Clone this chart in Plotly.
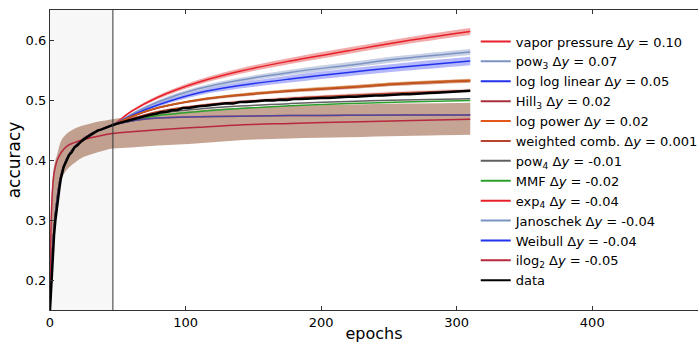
import plotly.graph_objects as go

# ---------------- data ----------------
FIT_EPOCHS = [0, 1, 2, 3, 5, 8, 13, 18, 23, 30, 38, 46, 60, 80, 110, 140, 177, 220, 260, 310]
FIT_EARLY = [0.16, 0.215, 0.255, 0.285, 0.33, 0.373, 0.405, 0.421, 0.432, 0.443, 0.451, 0.458]

vapor_late = [0.481, 0.505, 0.530, 0.548, 0.565, 0.582, 0.5975, 0.614]
pow3_late = [0.476, 0.497, 0.519, 0.533, 0.546, 0.558, 0.569, 0.580]
loglog_late = [0.474, 0.492, 0.512, 0.524, 0.535, 0.546, 0.555, 0.565]
hill3_late = [0.472, 0.487, 0.500, 0.508, 0.515, 0.521, 0.527, 0.532]
logpower_late = [0.4725, 0.4875, 0.5005, 0.5085, 0.5155, 0.5215, 0.5275, 0.5325]
weighted_late = [0.469, 0.481, 0.491, 0.497, 0.503, 0.508, 0.512, 0.516]
pow4_late = [0.466, 0.477, 0.485, 0.490, 0.494, 0.4975, 0.500, 0.502]
mmf_late = [0.465, 0.474, 0.481, 0.486, 0.4905, 0.494, 0.4965, 0.499]
exp4_late = [0.465, 0.470, 0.472, 0.473, 0.474, 0.4745, 0.475, 0.475]
janoschek_late = [0.465, 0.470, 0.472, 0.473, 0.474, 0.4745, 0.475, 0.475]
weibull_late = [0.465, 0.470, 0.472, 0.473, 0.474, 0.4745, 0.475, 0.475]

# band half-widths at the late epochs
vapor_hw = [0.002, 0.003, 0.004, 0.0045, 0.005, 0.0053, 0.0055, 0.0058]
pow3_hw = [0.002, 0.003, 0.0035, 0.004, 0.0045, 0.0048, 0.005, 0.0052]
loglog_hw = [0.002, 0.003, 0.004, 0.005, 0.0058, 0.0063, 0.0067, 0.007]
orange_hw = [0.001, 0.0015, 0.002, 0.0024, 0.0027, 0.0029, 0.003, 0.0031]
weighted_hw = [0.001, 0.0015, 0.002, 0.0024, 0.0027, 0.0029, 0.003, 0.0031]

ILOG_EPOCHS = [0, 0.5, 1, 2, 3, 4, 5.4, 8.4, 13, 18, 23, 30, 38, 46, 60, 80, 110, 140, 177, 220, 260, 310]
ilog2 = [0.19, 0.26, 0.31, 0.355, 0.378, 0.389, 0.40, 0.413, 0.424, 0.429, 0.433, 0.437, 0.441, 0.444,
         0.447, 0.4505, 0.4545, 0.4585, 0.461, 0.4635, 0.4655, 0.468]
ilog2_upper = [0.20, 0.28, 0.33, 0.37, 0.39, 0.40, 0.41, 0.433, 0.445, 0.452, 0.4567, 0.461, 0.4648, 0.468,
               0.472, 0.477, 0.483, 0.487, 0.490, 0.4925, 0.494, 0.4955]
ilog2_lower = [0.15, 0.18, 0.20, 0.25, 0.29, 0.315, 0.345, 0.369, 0.385, 0.395, 0.403, 0.409, 0.4145, 0.419,
               0.421, 0.424, 0.428, 0.433, 0.436, 0.438, 0.440, 0.442]

DATA_EPOCHS = [0, 1, 2, 3, 4, 5, 6, 7, 8, 9, 10, 12, 14, 16, 18, 20, 23, 26, 29, 32, 35, 38, 42, 46,
               50, 54, 58, 62, 66, 70, 74, 78, 82, 86, 90, 94, 98, 102, 106, 110, 115, 120, 125, 130,
               135, 140, 145, 150, 155, 160, 165, 170, 175, 180, 185, 190, 195, 200, 205, 210, 215,
               220, 225, 230, 235, 240, 245, 250, 255, 260, 265, 270, 275, 280, 285, 290, 295, 300,
               305, 310]
DATA_ACC = [0.15, 0.20, 0.24, 0.275, 0.30, 0.322, 0.341, 0.354, 0.369, 0.377, 0.388, 0.398, 0.408,
            0.413, 0.421, 0.424, 0.431, 0.436, 0.440, 0.444, 0.449, 0.451, 0.455, 0.458,
            0.461, 0.4635, 0.4665, 0.468, 0.4715, 0.473, 0.4755, 0.477, 0.4795, 0.4805, 0.483,
            0.4835, 0.4865, 0.4865, 0.4885, 0.4895, 0.4905, 0.4915, 0.4925, 0.4945, 0.494,
            0.4965, 0.4965, 0.4975, 0.4975, 0.4995, 0.499, 0.5005, 0.5, 0.5015, 0.5015, 0.5025,
            0.5025, 0.5035, 0.5035, 0.5045, 0.505, 0.5055, 0.5055, 0.5065, 0.5065, 0.5075, 0.5075,
            0.5085, 0.5085, 0.5095, 0.5095, 0.5105, 0.5105, 0.5115, 0.512, 0.5125, 0.513, 0.5135,
            0.5145, 0.5155]

SHADE_END = 46.4

NAMES = ["vapor pressure Δ<i>y</i> = 0.10", "pow<sub>3</sub> Δ<i>y</i> = 0.07",
         "log log linear Δ<i>y</i> = 0.05", "Hill<sub>3</sub> Δ<i>y</i> = 0.02",
         "log power Δ<i>y</i> = 0.02", "weighted comb. Δ<i>y</i> = 0.001",
         "pow<sub>4</sub> Δ<i>y</i> = -0.01", "MMF Δ<i>y</i> = -0.02",
         "exp<sub>4</sub> Δ<i>y</i> = -0.04", "Janoschek Δ<i>y</i> = -0.04",
         "Weibull Δ<i>y</i> = -0.04", "ilog<sub>2</sub> Δ<i>y</i> = -0.05", "data"]
COLORS = ["#e8202a", "#7b93c4", "#2233ee", "#a8303c", "#e2561a", "#b5452e", "#606060",
          "#2ca02c", "#e8202a", "#7b93c4", "#2233ee", "#b8283c", "#000000"]

fig = go.Figure()


def band(x, lo, hi, color):
    fig.add_trace(go.Scatter(x=x, y=hi, mode="lines", line=dict(width=0, shape="spline"),
                             showlegend=False, hoverinfo="skip"))
    fig.add_trace(go.Scatter(x=x, y=lo, mode="lines", line=dict(width=0, shape="spline"),
                             fill="tonexty", fillcolor=color, showlegend=False, hoverinfo="skip"))


def full(late):
    return FIT_EARLY + late


def bounds(late, hw):
    y = full(late)
    h = [0.0008] * len(FIT_EARLY) + hw
    return [a - b for a, b in zip(y, h)], [a + b for a, b in zip(y, h)]


# brown (overlapping) band of the lower models
band(ILOG_EPOCHS, ilog2_lower, ilog2_upper, "rgba(150,90,60,0.55)")

for late, hw, col in [(vapor_late, vapor_hw, "rgba(220,40,40,0.40)"),
                      (pow3_late, pow3_hw, "rgba(120,140,190,0.40)"),
                      (loglog_late, loglog_hw, "rgba(40,50,240,0.35)"),
                      (hill3_late, orange_hw, "rgba(180,80,30,0.45)"),
                      (logpower_late, orange_hw, "rgba(210,110,30,0.45)"),
                      (weighted_late, weighted_hw, "rgba(230,140,140,0.35)")]:
    lo, hi = bounds(late, hw)
    band(FIT_EPOCHS, lo, hi, col)

# fitted curve lines
line_sets = [(vapor_late, COLORS[0]), (pow3_late, COLORS[1]), (loglog_late, COLORS[2]),
             (weighted_late, COLORS[5]), (hill3_late, COLORS[3]), (logpower_late, "#c85a18"),
             (pow4_late, COLORS[6]), (mmf_late, COLORS[7]),
             (exp4_late, "rgba(232,32,42,0.9)"), (janoschek_late, "rgba(123,147,196,0.6)"),
             (weibull_late, "rgba(50,60,160,0.75)")]
for late, col in line_sets:
    fig.add_trace(go.Scatter(x=FIT_EPOCHS, y=full(late), mode="lines",
                             line=dict(color=col, width=1.5, shape="spline"),
                             showlegend=False, hoverinfo="skip"))

fig.add_trace(go.Scatter(x=ILOG_EPOCHS, y=ilog2, mode="lines",
                         line=dict(color=COLORS[11], width=1.5, shape="spline"),
                         showlegend=False, hoverinfo="skip"))

fig.add_trace(go.Scatter(x=DATA_EPOCHS, y=DATA_ACC, mode="lines",
                         line=dict(color="black", width=2.5),
                         showlegend=False, hoverinfo="skip"))

# legend entries
for name, col in zip(NAMES, COLORS):
    fig.add_trace(go.Scatter(x=[None], y=[None], mode="lines", name=name,
                             line=dict(color=col, width=2)))

fig.add_shape(type="rect", xref="x", yref="paper", x0=0, x1=SHADE_END, y0=0, y1=1,
              fillcolor="#f7f7f7", line=dict(width=0), layer="below")
fig.add_shape(type="line", xref="x", yref="paper", x0=SHADE_END, x1=SHADE_END, y0=0, y1=1,
              line=dict(color="#333333", width=1))

fig.update_layout(
    width=698, height=343,
    margin=dict(l=50, r=0, t=10, b=33, autoexpand=False),
    paper_bgcolor="white", plot_bgcolor="white",
    font=dict(family="DejaVu Sans", size=13, color="black"),
    legend=dict(x=0.657, y=0.945, xanchor="left", yanchor="top", bgcolor="rgba(255,255,255,0)",
                borderwidth=0, font=dict(size=13), tracegroupgap=0, traceorder="normal"),
    xaxis=dict(range=[0, 478], tickvals=[0, 100, 200, 300, 400, 500], ticks="inside", ticklen=4,
               showgrid=False, zeroline=False, showline=True, linecolor="#333333", linewidth=1.2,
               mirror="ticks", tickcolor="#333333",
               title=dict(text="epochs", font=dict(size=16), standoff=4)),
    yaxis=dict(range=[0.15, 0.65], tickvals=[0.2, 0.3, 0.4, 0.5, 0.6], tickformat=".1f",
               ticks="inside", ticklen=4, showgrid=False, zeroline=False, showline=True,
               linecolor="#333333", linewidth=1.2, tickcolor="#333333",
               title=dict(text="accuracy", font=dict(size=17), standoff=0)),
)

fig.write_html("out.html")
